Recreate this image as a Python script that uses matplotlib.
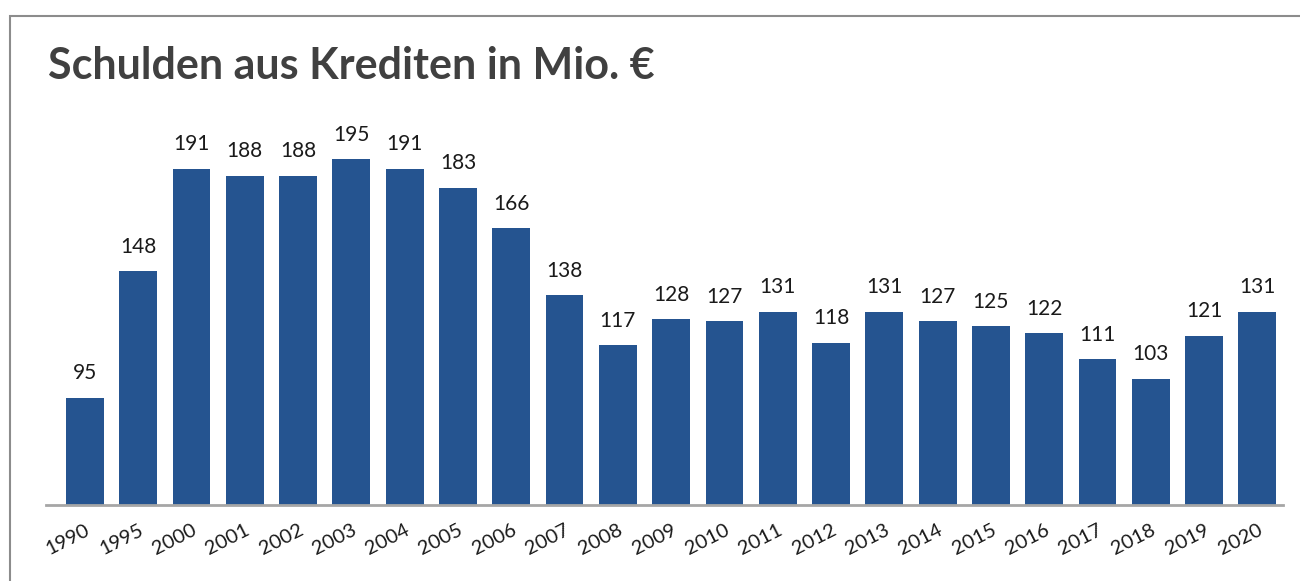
import matplotlib.pyplot as plt
from matplotlib.patches import Rectangle

years = ['1990', '1995', '2000', '2001', '2002', '2003', '2004', '2005', '2006', '2007',
         '2008', '2009', '2010', '2011', '2012', '2013', '2014', '2015', '2016', '2017',
         '2018', '2019', '2020']
debt = [95, 148, 191, 188, 188, 195, 191, 183, 166, 138, 117, 128, 127, 131, 118,
        131, 127, 125, 122, 111, 103, 121, 131]

plt.rcParams['font.family'] = ['Lato', 'DejaVu Sans']

fig = plt.figure(figsize=(13, 5.81), dpi=100)
ax = fig.add_axes([46 / 1300, 76 / 581, 1237 / 1300, 389 / 581])

x = list(range(len(years)))
bars = ax.bar(x, debt, width=0.71, color='#255490', zorder=2)

for xi, v in zip(x, debt):
    ax.text(xi, v + 6, str(v), ha='center', va='bottom', fontsize=15, color='#1a1a1a')

ax.set_xlim(-0.73, 22.48)
ax.set_ylim(50, 213)
ax.set_yticks([])
ax.set_xticks(x)
ax.set_xticklabels(years, rotation=27, ha='right', va='top', rotation_mode='anchor',
                   fontsize=14.5, color='#1a1a1a')
ax.tick_params(axis='x', length=0, pad=12)

for side in ['top', 'right', 'left']:
    ax.spines[side].set_visible(False)
ax.spines['bottom'].set_color('#a6a6a6')
ax.spines['bottom'].set_linewidth(2)

fig.text(48 / 1300, 1 - 66 / 581, 'Schulden aus Krediten in Mio. €', fontsize=31,
         fontweight='bold', color='#404040', ha='left', va='center')

# outer frame (top and left visible)
fig.patches.append(Rectangle((10 / 1300, -0.1), 1.2, 1 - 16 / 581 + 0.1,
                             transform=fig.transFigure, fill=False,
                             edgecolor='#8c8c8c', linewidth=1.5))

fig.savefig('out.png', dpi=100)
